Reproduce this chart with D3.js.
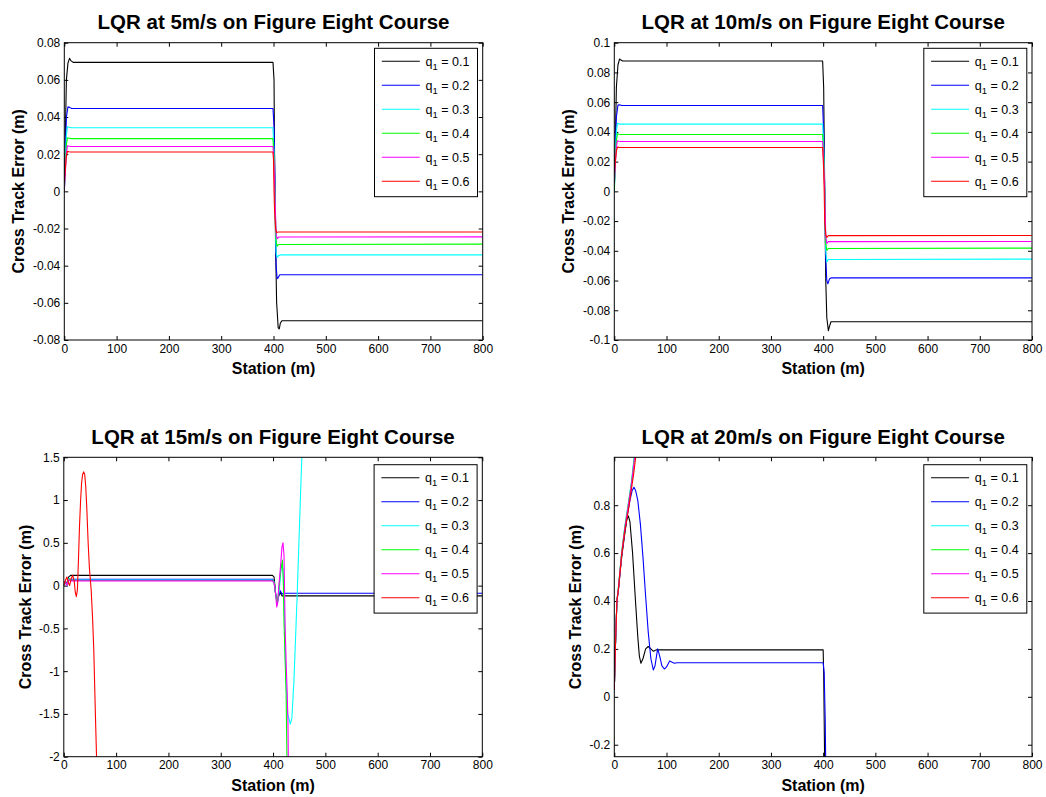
<!DOCTYPE html>
<html>
<head>
<meta charset="utf-8">
<script src="https://cdn.jsdelivr.net/npm/d3@7"></script>
<style>
  body { margin: 0; background: #fff; }
  svg { display: block; font-family: "Liberation Sans", Arial, Helvetica, sans-serif; }
</style>
</head>
<body>
<svg id="fig" width="1046" height="797"></svg>
<script>
// Controller gains q1 and line colours, one per series
const gains = [0.1, 0.2, 0.3, 0.4, 0.5, 0.6];
const seriesColors = ["#000000", "#0000ff", "#00ffff", "#00ff00", "#ff00ff", "#ff0000"];

// Tick values
const stationTicks = [0, 100, 200, 300, 400, 500, 600, 700, 800];
const errTicks5  = [-0.08, -0.06, -0.04, -0.02, 0, 0.02, 0.04, 0.06, 0.08];
const errTicks10 = [-0.1, -0.08, -0.06, -0.04, -0.02, 0, 0.02, 0.04, 0.06, 0.08, 0.1];
const errTicks15 = [-2, -1.5, -1, -0.5, 0, 0.5, 1, 1.5];
const errTicks20 = [-0.2, 0, 0.2, 0.4, 0.6, 0.8];

// Cross track error [station (m), error (m)] per gain, 5 m/s
const err5 = [
  [[0,0],[2,0.03],[4,0.06],[7,0.069],[10,0.0716],[13,0.0702],[17,0.0694],[399,0.0694],[401,0.06],[402,0.02],[404,-0.03],[406,-0.06],[409,-0.0735],[411,-0.074],[413,-0.071],[416,-0.0696],[800,-0.0696]],
  [[0,0],[2,0.02],[4,0.04],[7,0.0455],[10,0.0452],[14,0.0446],[399,0.0446],[401,0.035],[403,0],[405,-0.04],[407,-0.047],[409,-0.0465],[412,-0.0449],[800,-0.0449]],
  [[0,0],[2,0.015],[4,0.03],[6,0.0348],[9,0.0345],[13,0.0342],[399,0.0342],[401,0.02],[403,-0.01],[405,-0.033],[407,-0.0355],[410,-0.0345],[413,-0.0342],[800,-0.0342]],
  [[0,0],[2,0.012],[4,0.025],[6,0.0288],[9,0.0286],[12,0.0284],[399,0.0284],[401,0.018],[403,-0.005],[405,-0.027],[407,-0.0295],[410,-0.0286],[800,-0.0284]],
  [[0,0],[2,0.01],[4,0.021],[6,0.0245],[9,0.0243],[12,0.0241],[399,0.0241],[401,0.015],[403,-0.005],[405,-0.023],[407,-0.0255],[410,-0.0246],[800,-0.0245]],
  [[0,0.005],[2,0.012],[4,0.019],[6,0.0215],[9,0.0213],[12,0.0212],[399,0.0212],[400,0.017],[401,0],[402,-0.01],[404,-0.02],[406,-0.0222],[409,-0.0219],[800,-0.0219]]
];

// 10 m/s
const err10 = [
  [[0,0],[2,0.035],[4,0.07],[7,0.085],[10,0.089],[12,0.0885],[16,0.0877],[399,0.0877],[401,0.07],[403,0],[405,-0.06],[407,-0.085],[410,-0.0937],[412,-0.091],[415,-0.0877],[800,-0.0877]],
  [[0,0],[2,0.03],[4,0.05],[7,0.058],[10,0.0582],[14,0.0578],[399,0.0578],[401,0.04],[403,0],[405,-0.045],[407,-0.06],[409,-0.0622],[412,-0.059],[415,-0.0582],[800,-0.0582]],
  [[0,0],[2,0.02],[4,0.04],[6,0.0458],[9,0.0454],[13,0.0452],[399,0.0452],[401,0.03],[403,0],[405,-0.04],[407,-0.0475],[410,-0.0458],[800,-0.0456]],
  [[0,0],[2,0.02],[4,0.034],[6,0.0388],[9,0.0384],[12,0.0382],[399,0.0382],[401,0.025],[403,0],[405,-0.035],[407,-0.0398],[410,-0.0384],[800,-0.0382]],
  [[0,0.005],[2,0.018],[4,0.03],[6,0.034],[9,0.0337],[12,0.0335],[399,0.0335],[401,0.02],[403,0],[405,-0.03],[407,-0.035],[410,-0.0338],[800,-0.0337]],
  [[0,0.012],[2,0.02],[4,0.027],[6,0.0298],[9,0.0296],[12,0.0295],[399,0.0295],[401,0.015],[402,0],[403,-0.02],[405,-0.029],[407,-0.031],[410,-0.0298],[800,-0.0297]]
];

// 15 m/s
const err15 = [
  [[0,0],[3,0.05],[6,0.02],[9,0.1],[13,0.12],[399,0.12],[402,0.1],[405,-0.1],[408,-0.2],[411,-0.12],[414,-0.08],[417,-0.12],[800,-0.12]],
  [[0,0],[3,0.04],[6,0],[9,0.08],[13,0.075],[399,0.075],[402,0.05],[405,-0.1],[408,-0.2],[411,-0.1],[414,-0.06],[417,-0.1],[420,-0.09],[800,-0.09]],
  [[0,0],[3,0.05],[6,0],[9,0.08],[13,0.065],[399,0.065],[402,0.04],[405,-0.1],[408,-0.22],[412,-0.05],[416,0.25],[419,0.2],[422,-0.4],[424,-1.0],[428,-1.5],[433,-1.62],[436,-1.55],[440,-1.1],[446,-0.13],[452,0.97],[455,1.5],[457,1.9]],
  [[0,0],[3,0.05],[6,0],[9,0.08],[13,0.06],[399,0.06],[402,0.04],[405,-0.1],[408,-0.22],[411,-0.05],[414,0.15],[418,0.3],[419.5,0.1],[421,-0.44],[425,-1.26],[426.5,-2],[427,-2.3]],
  [[0,0],[3,0.05],[6,0],[9,0.07],[13,0.055],[399,0.055],[402,0.03],[405,-0.1],[407,-0.25],[409,-0.2],[411,0],[414,0.2],[417,0.45],[419,0.5],[421,0.35],[423,-0.45],[425,-0.9],[427,-1.25],[428.5,-1.6],[429.5,-2.2]],
  [[0,0],[3,0.06],[6,0.1],[9,0.03],[11,0],[14,0.08],[17,0.12],[20,0.05],[22,-0.08],[24,-0.13],[26,-0.05],[28,0.3],[30,0.69],[32,0.98],[34,1.2],[36,1.3],[38,1.33],[40,1.3],[42,1.15],[44,0.9],[46.6,0.49],[49,0.2],[52.3,-0.05],[55,-0.38],[57.3,-0.75],[60.5,-1.53],[62.5,-1.98],[63.5,-2.3]]
];

// 20 m/s
const err20 = [
  [[0,0.03],[2,0.2],[5,0.4],[8,0.45],[14,0.58],[20,0.68],[24,0.74],[27,0.755],[30,0.73],[35,0.6],[40,0.42],[45,0.25],[48,0.17],[51,0.14],[55,0.16],[60,0.2],[65,0.21],[70,0.2],[75,0.19],[80,0.196],[400,0.196],[401,0.1],[402,-0.1],[403,-0.3]],
  [[0,0.03],[2,0.2],[5,0.4],[8,0.45],[14,0.59],[20,0.69],[25,0.76],[30,0.82],[34,0.86],[37.7,0.875],[41,0.86],[45,0.82],[50,0.72],[55,0.58],[60,0.42],[65,0.27],[70,0.16],[74.7,0.112],[78,0.13],[83,0.2],[87,0.17],[91,0.13],[95.7,0.116],[100,0.125],[106,0.15],[110,0.145],[115,0.14],[120,0.142],[400,0.142],[402,0.1],[404,-0.1],[405,-0.3]],
  [[0,0.03],[2,0.2],[5,0.4],[8,0.46],[14,0.6],[20,0.71],[27,0.81],[33,0.9],[38,1.0],[40,1.04]],
  [[0,0.03],[2,0.2],[5,0.4],[8,0.46],[14,0.6],[20,0.705],[27,0.805],[33,0.895],[38.5,1.0],[40,1.03]],
  [[0,0.03],[2,0.2],[5,0.4],[8,0.455],[14,0.595],[20,0.7],[27,0.8],[33,0.89],[39,1.0],[41,1.03]],
  [[0,0.03],[2,0.2],[5,0.4],[8,0.45],[14,0.59],[20,0.69],[27,0.78],[33,0.87],[37,0.93],[41,1.0],[43,1.03]]
];

// Subplot layout (pixel boxes of each axes)
const panels = [
  { speed: 5,  data: err5,  yDomain: [-0.08, 0.08], yTicks: errTicks5,  x0: 64.3,  x1: 482.7, y0: 42.7,  y1: 340,   yLabelX: 18,  legendTop: 5.6 },
  { speed: 10, data: err10, yDomain: [-0.1, 0.1],   yTicks: errTicks10, x0: 614.3, x1: 1032,  y0: 42.7,  y1: 340,   yLabelX: 568, legendTop: 5.6 },
  { speed: 15, data: err15, yDomain: [-2, 1.5],     yTicks: errTicks15, x0: 63.8,  x1: 482.3, y0: 457.3, y1: 756.7, yLabelX: 25,  legendTop: 7.4 },
  { speed: 20, data: err20, yDomain: [-0.25, 1],    yTicks: errTicks20, x0: 614.3, x1: 1032,  y0: 457.3, y1: 756.7, yLabelX: 575, legendTop: 7.4 }
];

const fmt = v => v === 0 ? "0" : String(+v.toFixed(2));
const svg = d3.select("#fig");
const tickLen = 4;

panels.forEach((p, i) => {
  const x = d3.scaleLinear().domain([0, 800]).range([p.x0, p.x1]);
  const y = d3.scaleLinear().domain(p.yDomain).range([p.y1, p.y0]);
  const g = svg.append("g");

  // clip region for data lines
  const clipId = "clip" + i;
  svg.append("clipPath").attr("id", clipId)
    .append("rect").attr("x", p.x0).attr("y", p.y0)
    .attr("width", p.x1 - p.x0).attr("height", p.y1 - p.y0);

  // axes (ticks pointing inward, mirrored on top/right)
  const styleAxis = sel => {
    sel.select(".domain").remove();
    sel.selectAll(".tick line").attr("stroke", "#000");
    sel.selectAll(".tick text").attr("fill", "#000").style("font-size", "12px")
      .style("font-family", "\"Liberation Sans\", Arial, sans-serif");
  };
  g.append("g").attr("transform", `translate(0,${p.y1})`)
    .call(d3.axisBottom(x).tickValues(stationTicks).tickSizeInner(-tickLen).tickSizeOuter(0).tickPadding(4).tickFormat(d3.format("d")))
    .call(styleAxis);
  g.append("g").attr("transform", `translate(0,${p.y0})`)
    .call(d3.axisTop(x).tickValues(stationTicks).tickSizeInner(-tickLen).tickSizeOuter(0).tickFormat(""))
    .call(styleAxis);
  g.append("g").attr("transform", `translate(${p.x0},0)`)
    .call(d3.axisLeft(y).tickValues(p.yTicks).tickSizeInner(-tickLen).tickSizeOuter(0).tickPadding(4).tickFormat(fmt))
    .call(styleAxis);
  g.append("g").attr("transform", `translate(${p.x1},0)`)
    .call(d3.axisRight(y).tickValues(p.yTicks).tickSizeInner(-tickLen).tickSizeOuter(0).tickFormat(""))
    .call(styleAxis);

  // data lines
  const line = d3.line().x(d => x(d[0])).y(d => y(d[1]));
  g.append("g").attr("clip-path", `url(#${clipId})`)
    .selectAll("path").data(p.data).join("path")
    .attr("d", line).attr("fill", "none")
    .attr("stroke", (d, k) => seriesColors[k])
    .attr("stroke-width", 1.1)
    .attr("stroke-linejoin", "round");

  // axes box
  g.append("rect").attr("x", p.x0).attr("y", p.y0)
    .attr("width", p.x1 - p.x0).attr("height", p.y1 - p.y0)
    .attr("fill", "none").attr("stroke", "#000").attr("stroke-width", 1);

  // legend
  const lgW = 103, lgH = 148.4, rowH = 24;
  const lx = p.x1 - 5.2 - lgW, ly = p.y0 + p.legendTop;
  const lg = g.append("g").attr("transform", `translate(${lx},${ly})`);
  lg.append("rect").attr("width", lgW).attr("height", lgH)
    .attr("fill", "#fff").attr("stroke", "#000").attr("stroke-width", 1);
  gains.forEach((q, k) => {
    const ry = 13 + k * rowH;
    lg.append("line").attr("x1", 7.3).attr("x2", 45.3).attr("y1", ry).attr("y2", ry)
      .attr("stroke", seriesColors[k]).attr("stroke-width", 1.1);
    const t = lg.append("text").attr("x", 51).attr("y", ry + 4.3)
      .style("font-size", "12.5px").attr("fill", "#000");
    t.append("tspan").text("q");
    t.append("tspan").attr("dy", 4.5).style("font-size", "9.5px").text("1");
    t.append("tspan").attr("dy", -4.5).text(" = " + q);
  });

  // title and axis labels
  const cx = (p.x0 + p.x1) / 2;
  svg.append("text").attr("x", cx).attr("y", p.y0 - 13.7)
    .attr("text-anchor", "middle").style("font-size", "20.5px").style("font-weight", "bold")
    .text(`LQR at ${p.speed}m/s on Figure Eight Course`);
  svg.append("text").attr("x", cx).attr("y", p.y1 + 34)
    .attr("text-anchor", "middle").style("font-size", "16px").style("font-weight", "bold")
    .text("Station (m)");
  svg.append("text")
    .attr("transform", `translate(${p.yLabelX},${(p.y0 + p.y1) / 2}) rotate(-90)`)
    .attr("dy", "0.35em").attr("text-anchor", "middle")
    .style("font-size", "16px").style("font-weight", "bold")
    .text("Cross Track Error (m)");
});
</script>
</body>
</html>
